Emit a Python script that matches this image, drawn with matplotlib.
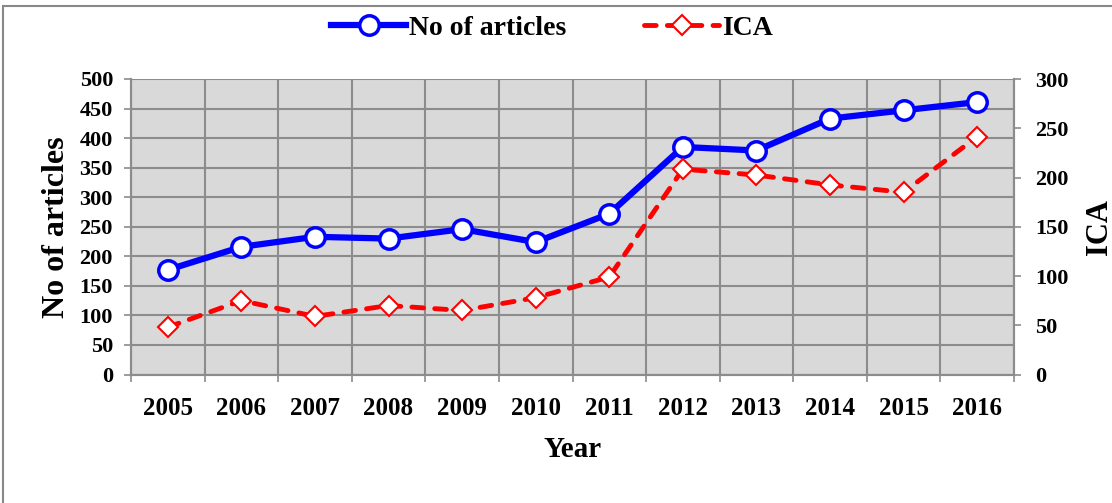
import numpy as np
import matplotlib.pyplot as plt
from matplotlib.patches import Rectangle
from matplotlib.ticker import MultipleLocator

plt.rcParams['font.family'] = ['Liberation Serif', 'DejaVu Serif']
plt.rcParams['font.weight'] = 'bold'
plt.rcParams['axes.labelweight'] = 'bold'

years = ['2005', '2006', '2007', '2008', '2009', '2010',
         '2011', '2012', '2013', '2014', '2015', '2016']
articles = [177, 216, 233, 230, 246, 224, 272, 385, 379, 433, 447, 461]
ica = [48, 75, 59, 70, 65, 78, 99, 208.5, 202.5, 192.5, 185, 241.5]

W, H = 1112, 503
fig = plt.figure(figsize=(W / 100, H / 100), dpi=100)
ax = fig.add_axes([131 / W, 1 - 374.5 / H, 883 / W, 295.5 / H])
ax.set_facecolor('#d9d9d9')

# outer chart border (only top/left visible in the picture)
fig.patches.append(Rectangle((3 / W, -0.1), 1.2, 1 - 6 / H + 0.1,
                             transform=fig.transFigure, fill=False,
                             edgecolor='#888888', lw=1.5))

x = np.arange(len(years))
grid_c = '#8c8c8c'

l1, = ax.plot(x, articles, color='#0000ff', lw=4.5, marker='o', markersize=14,
              markerfacecolor='white', markeredgecolor='#0000ff', markeredgewidth=2.5,
              zorder=4, label='No of articles')
ax.set_ylim(0, 500)
ax.yaxis.set_major_locator(MultipleLocator(50))
ax.set_xlim(-0.5, len(years) - 0.5)
ax.set_xticks(x)
ax.set_xticklabels(years)
ax.set_xticks(np.arange(-0.5, len(years)), minor=True)
ax.tick_params(axis='x', which='major', length=0, pad=16, labelsize=18)
ax.tick_params(axis='x', which='minor', length=5, color=grid_c, width=1.2)
ax.tick_params(axis='y', length=5, color=grid_c, width=1.2, labelsize=16, pad=8)
ax.grid(True, which='major', axis='y', color=grid_c, lw=1.5)
ax.grid(True, which='minor', axis='x', color=grid_c, lw=1.5)
ax.set_axisbelow(True)
for s in ax.spines.values():
    s.set_color(grid_c)
    s.set_linewidth(1.5)
ax.spines['top'].set_visible(False)
ax.set_ylabel('No of articles', fontsize=23, labelpad=6)
ax.set_xlabel('Year', fontsize=21, labelpad=12)

ax2 = ax.twinx()
l2, = ax2.plot(x, ica, color='#ff0000', lw=3.5, dashes=(2.4, 2.3), dash_capstyle='round',
               marker='D', markersize=10, markerfacecolor='white',
               markeredgecolor='#ff0000', markeredgewidth=1.5, zorder=3, label='ICA')
ax2.set_ylim(0, 300)
ax2.yaxis.set_major_locator(MultipleLocator(50))
ax2.tick_params(axis='y', length=5, color=grid_c, width=1.2, labelsize=16, pad=10)
for s in ax2.spines.values():
    s.set_color(grid_c)
    s.set_linewidth(1.5)
ax2.spines['top'].set_visible(False)
ax2.set_ylabel('ICA', fontsize=22, labelpad=12)

fig.legend(handles=[l1, l2], loc='center', bbox_to_anchor=(552 / W, 1 - 28 / H),
           ncol=2, frameon=False, fontsize=20, handlelength=2.7, columnspacing=2.8,
           handletextpad=0.1)

fig.savefig('out.png', dpi=100)
